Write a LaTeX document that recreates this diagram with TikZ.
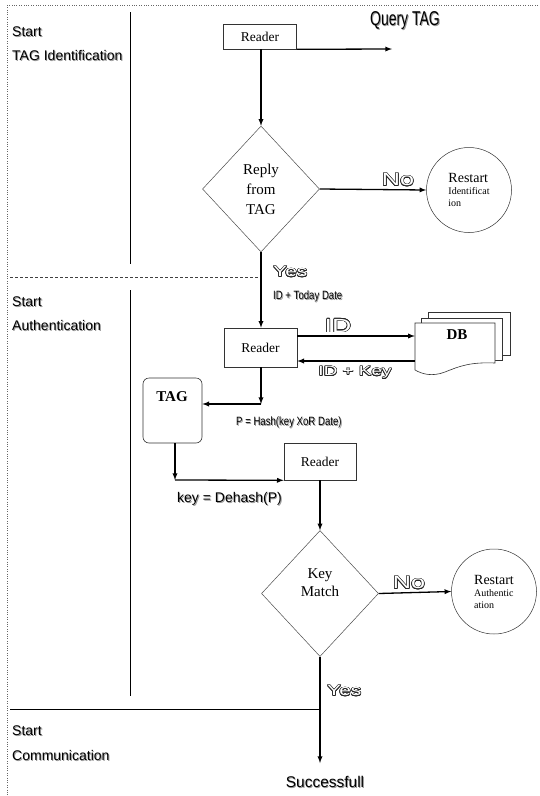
\documentclass[tikz,border=0pt]{standalone}
\usepackage{fontspec}
\setmainfont{Liberation Serif}
\setsansfont{Liberation Sans}
\newfontfamily\narrowsf[FakeStretch=0.8]{Liberation Sans}
\newfontfamily\condsf[FakeStretch=0.7]{Liberation Sans}
\newfontfamily\widesf[FakeStretch=1.4]{Liberation Sans}
\usepackage{contour}
\contourlength{0.55pt}
\usetikzlibrary{shapes.geometric}

\newcommand{\shd}[1]{\leavevmode\rlap{\hspace{0.9pt}\raisebox{-0.9pt}{\textcolor{black!40}{#1}}}#1}
\newcommand{\outl}[1]{{\color{white}\contour{black!85}{#1}}}

\begin{document}
\begin{tikzpicture}[x=1pt,y=-1pt,
  arr/.style={-latex,line width=1.3pt},
  reader/.style={draw=black!80,line width=0.6pt,minimum width=73pt,inner sep=0,font=\fontsize{13.5}{15}\selectfont},
  decide/.style={diamond,draw=black!70,line width=0.5pt,inner sep=0,minimum width=117pt,minimum height=126pt,align=center},
  restart/.style={circle,draw=black!80,line width=0.5pt,minimum size=85pt,inner sep=0,align=left},
  tagbox/.style={draw=black!80,line width=0.6pt,rounded corners=6pt,minimum width=59pt,minimum height=65pt},
  sect/.style={anchor=west,inner sep=0,font=\sffamily\fontsize{14}{16}\selectfont},
  hollow/.style={inner sep=0,font=\widesf\fontsize{15}{17}\selectfont},
  msg/.style={anchor=west,inner sep=0,font=\narrowsf\fontsize{12}{14}\selectfont}]
\useasboundingbox (0,0) rectangle (540,796);
% frame and lanes
\draw[dotted,black!60] (540,5) -- (7,5) -- (7,796);
\draw[line width=0.6pt] (130,12) -- (130,264) (130,290) -- (130,696);
\draw[densely dashed,line width=0.8pt,black!75] (10,277) -- (261,277);
\draw[line width=0.5pt] (10,709) -- (320,709);
\foreach \n/\y/\lab in {st1/32/Start,ph1/56/TAG Identification,st2/302/Start,ph2/326/Authentication,st3/731/Start,ph3/756/Communication}{
  \node[sect] (\n) at (12,\y) {\shd{\lab}};
}
% identification
\node[reader,minimum height=25pt] (rd1) at (260,36.5) {Reader};
\node[font=\condsf\fontsize{20}{22}\selectfont] (qtag) at (405,21) {\shd{Query TAG}};
\coordinate (qend) at (392,49);
\node[decide,font=\fontsize{15}{20}\selectfont] (rep) at (261,189) {Reply\\from\\TAG};
\node[restart] (rs1) at (469,190) {\fontsize{14}{14}\selectfont Restart\\\fontsize{10}{11}\selectfont Identificat\\ion};
\node[hollow,font=\widesf\fontsize{18}{20}\selectfont] (no1) at (398,180) {\outl{No}};
\node[hollow,anchor=west] (yes1) at (273,272) {\outl{Yes}};
\draw[arr] (rd1.south east) -- (qend);
\draw[arr] (rd1.south -| rep.north) -- (rep.north);
\draw[arr] (rep.east) -- (rs1.west);
% authentication
\node[reader,minimum height=39pt] (rd2) at (260.5,347.5) {Reader};
\draw[arr] (rep.south) -- (rep.south |- rd2.north);
\node[msg] (idt) at (273,297) {\shd{ID + Today Date}};
\filldraw[fill=white,draw=black!80,line width=0.6pt] (428,312) rectangle (510,355);
\filldraw[fill=white,draw=black!80,line width=0.6pt] (421,318) rectangle (502,360);
\filldraw[fill=white,draw=black!80,line width=0.6pt] (415,323) -- (495,323) -- (495,363)
  .. controls (470,362) and (460,366) .. (445,372) .. controls (432,377) and (422,374) .. (415,370) -- cycle;
\node[minimum width=80pt,minimum height=50pt,inner sep=0] (db) at (455,347) {};
\node[font=\bfseries\fontsize{15}{17}\selectfont] (dbt) at (457,335) {DB};
\path ([yshift=11.5pt]rd2.east) coordinate (ida) ([yshift=-13.5pt]rd2.east) coordinate (idb);
\draw[arr] (ida) -- (ida -| db.west);
\draw[arr] (idb -| db.west) -- (idb);
\node[hollow,font=\widesf\fontsize{19}{21}\selectfont] (idl) at (338,326) {\outl{ID}};
\node[hollow,font=\widesf\fontsize{13.5}{15}\selectfont] (idk) at (355,373) {\outl{ID + Key}};
\node[tagbox] (tag) at (172.5,410.5) {};
\node[font=\bfseries\fontsize{15}{17}\selectfont] (tagt) at (172,397) {TAG};
\coordinate (c1) at (261,404);
\draw[arr] (rd2.south -| c1) -- (c1);
\draw[arr] (c1) -- (c1 -| tag.east);
\node[msg] (hash) at (236,423) {\shd{P = Hash(key XoR Date)}};
\node[reader,minimum height=37pt,minimum width=72pt] (rd3) at (320,461.5) {Reader};
\coordinate (c2) at (175,480);
\draw[arr] (tag.south -| c2) -- (c2);
\draw[arr] (c2) -- (rd3.south west);
\node[sect] (dehash) at (177,499) {\shd{key = Dehash(P)}};
\node[decide,font=\fontsize{15}{18}\selectfont] (kmatch) at (320,593.5) {Key\\Match\\[4pt]\mbox{}};
\node[restart] (rs2) at (494,591.5) {\fontsize{14}{14}\selectfont Restart\\\fontsize{10}{11}\selectfont Authentic\\ation};
\node[hollow,font=\widesf\fontsize{18}{20}\selectfont] (no2) at (409,583) {\outl{No}};
\draw[arr] (rd3.south -| kmatch.north) -- (kmatch.north);
\draw[arr] (kmatch.east) -- (rs2.west);
% communication
\node[hollow,anchor=west] (yes2) at (327,691) {\outl{Yes}};
\coordinate (fin) at (320,763);
\draw[arr] (kmatch.south) -- (fin);
\node[font=\sffamily\fontsize{15.5}{17}\selectfont] (succ) at (325,782) {\shd{Successfull}};
\end{tikzpicture}
\end{document}
